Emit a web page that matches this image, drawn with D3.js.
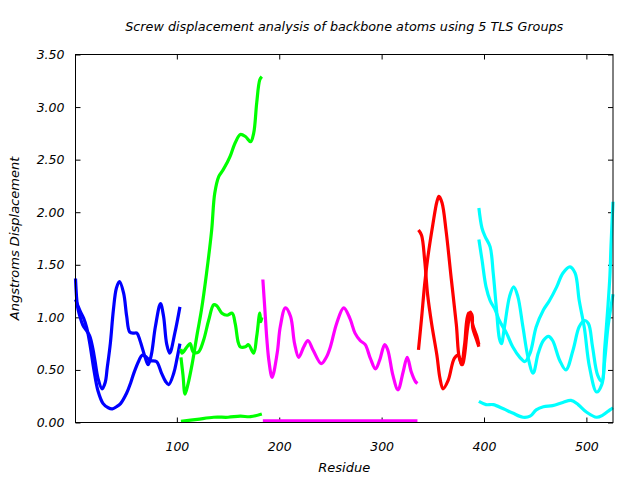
<!DOCTYPE html>
<html>
<head>
<meta charset="utf-8">
<script src="https://cdn.jsdelivr.net/npm/d3@7/dist/d3.min.js"></script>
<style>
  body { margin: 0; background: #fff; }
  text { font-family: "DejaVu Sans", sans-serif; font-style: italic; fill: #000; }
</style>
</head>
<body>
<div id="chart"></div>
<script>
// residue, displacement pairs (3 curves per TLS group)
const blueA = [[1,1.37],[3,1.10],[5,1.02],[8,0.93],[12,0.87],[15,0.82],[18,0.70],[20,0.59],[23,0.42],[27,0.32],[30,0.38],[32,0.52],[35,0.75],[38,1.07],[41,1.28],[44,1.34],[48,1.23],[51,1.01],[54,0.86],[58,0.85],[61,0.85],[64,0.78],[69,0.62],[72,0.55],[75,0.64],[79,0.91],[84,1.13],[87,1.01],[90,0.75],[93,0.66],[98,0.85],[103,1.10]];
const blueB = [[1,1.17],[3,1.12],[6,1.05],[9,0.99],[12,0.90],[15,0.75],[19,0.50],[23,0.30],[28,0.18],[33,0.14],[37,0.13],[41,0.15],[45,0.18],[51,0.28],[55,0.38],[58,0.47],[63,0.59],[66,0.64],[69,0.63],[74,0.59],[80,0.58],[85,0.47],[89,0.39],[92,0.36],[97,0.47],[100,0.60],[103,0.75]];

const greenA = [[104,0.62],[106,0.45],[108,0.27],[111,0.37],[115,0.56],[120,0.85],[124,1.07],[129,1.42],[134,1.83],[137,2.18],[141,2.34],[145,2.40],[149,2.47],[152,2.53],[157,2.66],[162,2.74],[167,2.72],[172,2.67],[175,2.75],[178,3.04],[181,3.26],[183,3.29]];
const greenB = [[104,0.70],[105,0.66],[110,0.72],[113,0.75],[116,0.67],[121,0.67],[126,0.78],[131,0.97],[136,1.12],[139,1.11],[144,1.04],[149,1.02],[154,1.04],[157,0.94],[160,0.76],[162,0.72],[167,0.72],[170,0.74],[175,0.66],[178,0.82],[181,1.04],[182,0.96],[183,1.00]];
const greenC = [[104,0.01],[120,0.03],[136,0.05],[150,0.05],[162,0.06],[172,0.055],[183,0.08]];

const magentaA = [[184,1.36],[186,1.07],[188,0.78],[190,0.58],[193,0.43],[198,0.66],[201,0.91],[206,1.09],[211,1.01],[215,0.75],[219,0.62],[224,0.72],[228,0.78],[233,0.69],[241,0.56],[246,0.62],[250,0.72],[256,0.94],[263,1.09],[269,0.99],[274,0.85],[279,0.78],[284,0.74],[289,0.61],[294,0.51],[298,0.59],[303,0.74],[306,0.69],[311,0.45],[316,0.31],[321,0.48],[325,0.62],[329,0.48],[333,0.39],[335,0.37]];
const magentaB = [[184,0.015],[220,0.015],[260,0.015],[300,0.015],[335,0.015]];

const redA = [[336,1.83],[339,1.78],[342,1.55],[345,1.21],[349,0.93],[354,0.64],[357,0.42],[360,0.32],[365,0.40],[371,0.61],[375,0.64],[378,0.55],[381,0.74],[385,1.04],[388,1.03],[389,0.90],[393,0.78],[395,0.72]];
const redB = [[336,0.69],[339,0.99],[342,1.31],[345,1.56],[350,1.88],[354,2.10],[356,2.15],[359,2.09],[363,1.82],[368,1.37],[373,0.93],[376,0.61],[379,0.55],[381,0.64],[384,0.90],[387,1.05],[389,0.93],[393,0.82],[395,0.74]];

const cyanA = [[395,2.04],[398,1.85],[401,1.77],[406,1.67],[409,1.42],[412,1.10],[415,0.80],[417,0.75],[420,0.91],[425,1.20],[429,1.29],[433,1.20],[438,0.91],[443,0.62],[448,0.47],[453,0.66],[458,0.78],[463,0.82],[467,0.78],[474,0.59],[480,0.50],[487,0.69],[493,0.91],[498,0.97],[502,0.94],[506,0.72],[511,0.45],[515,0.39],[518,0.72],[521,1.10],[523,1.40],[524,1.67],[526,2.10]];
const cyanB = [[395,1.74],[398,1.55],[402,1.29],[406,1.16],[411,1.07],[415,0.97],[422,0.85],[428,0.72],[435,0.62],[440,0.58],[445,0.66],[451,0.91],[458,1.07],[464,1.16],[471,1.29],[477,1.42],[484,1.48],[489,1.42],[493,1.16],[498,0.90],[503,0.53],[510,0.29],[515,0.36],[518,0.60],[521,0.90],[524,1.10],[526,1.22]];
const cyanC = [[395,0.20],[402,0.17],[409,0.17],[419,0.13],[428,0.09],[438,0.05],[445,0.06],[451,0.12],[458,0.15],[467,0.16],[477,0.19],[485,0.21],[492,0.17],[500,0.10],[510,0.05],[516,0.07],[523,0.12],[526,0.14]];

const groupColors = ["#0000ff", "#00ff00", "#ff00ff", "#ff0000", "#00ffff"];
const groupCurves = [[blueA, blueB], [greenA, greenB, greenC], [magentaA, magentaB], [redA, redB], [cyanA, cyanB, cyanC]];

const xTicks = [100, 200, 300, 400, 500];
const yTicks = [0, 0.5, 1, 1.5, 2, 2.5, 3, 3.5];

const titleText = "Screw displacement analysis of backbone atoms using 5 TLS Groups";
const xLabel = "Residue";
const yLabel = "Angstroms Displacement";

function drawChart() {
    const W = 640, H = 480;
    const margin = { top: 54.5, right: 27, bottom: 57.5, left: 75.5 };
    const width = W - margin.left - margin.right;
    const height = H - margin.top - margin.bottom;

    const svg = d3.select("#chart").append("svg")
        .attr("width", W)
        .attr("height", H);

    const g = svg.append("g")
        .attr("transform", `translate(${margin.left},${margin.top})`);

    const x = d3.scaleLinear().domain([1, 526]).range([0, width]);
    const y = d3.scaleLinear().domain([0, 3.5]).range([height, 0]);

    // ticks, mirrored on all four sides, pointing inward
    g.append("g")
        .attr("transform", `translate(0,${height})`)
        .call(d3.axisBottom(x).tickValues(xTicks).tickSizeInner(-5).tickSizeOuter(0).tickPadding(20).tickFormat(d3.format("d")))
        .call(a => a.select(".domain").remove());
    g.append("g")
        .call(d3.axisTop(x).tickValues(xTicks).tickSizeInner(-5).tickSizeOuter(0).tickFormat(""))
        .call(a => a.select(".domain").remove());
    g.append("g")
        .call(d3.axisLeft(y).tickValues(yTicks).tickSizeInner(-5).tickSizeOuter(0).tickPadding(11).tickFormat(d3.format(".2f")))
        .call(a => a.select(".domain").remove());
    g.append("g")
        .attr("transform", `translate(${width},0)`)
        .call(d3.axisRight(y).tickValues(yTicks).tickSizeInner(-5).tickSizeOuter(0).tickFormat(""))
        .call(a => a.select(".domain").remove());

    g.selectAll(".tick line").attr("stroke", "#000");
    g.selectAll(".tick text")
        .style("font-family", "'DejaVu Sans', sans-serif")
        .style("font-style", "italic")
        .style("font-size", "12.5px")
        .attr("fill", "#000");

    const line = d3.line()
        .x(d => x(d[0]))
        .y(d => y(d[1]))
        .curve(d3.curveCatmullRom.alpha(0.5));

    groupCurves.forEach((curves, i) => {
        g.selectAll(null)
            .data(curves)
            .enter().append("path")
            .attr("d", line)
            .attr("fill", "none")
            .attr("stroke", groupColors[i])
            .attr("stroke-width", 3.2)
            .attr("stroke-linejoin", "round");
    });

    g.append("rect")
        .attr("width", width)
        .attr("height", height)
        .attr("fill", "none")
        .attr("stroke", "#000")
        .attr("stroke-width", 1);

    svg.append("text")
        .attr("x", margin.left + width / 2)
        .attr("y", 31)
        .attr("text-anchor", "middle")
        .style("font-size", "12.75px")
        .text(titleText);

    svg.append("text")
        .attr("x", margin.left + width / 2)
        .attr("y", 472)
        .attr("text-anchor", "middle")
        .style("font-size", "13px")
        .text(xLabel);

    svg.append("text")
        .attr("transform", `translate(19,${margin.top + height / 2}) rotate(-90)`)
        .attr("text-anchor", "middle")
        .style("font-size", "13px")
        .text(yLabel);
}

drawChart();
</script>
</body>
</html>
